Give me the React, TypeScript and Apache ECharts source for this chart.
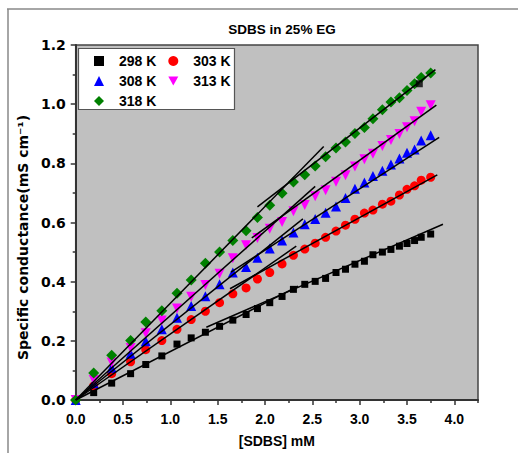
import React, { useEffect, useRef } from "react";
import * as echarts from "echarts";

// [SDBS] concentrations (mM), shared by all temperatures
const conc = [0, 0.19, 0.38, 0.58, 0.74, 0.91, 1.07, 1.22, 1.37, 1.52, 1.66, 1.8, 1.92, 2.05, 2.18, 2.3, 2.42, 2.53, 2.64, 2.75, 2.85, 2.95, 3.05, 3.14, 3.24, 3.33, 3.42, 3.5, 3.58, 3.65, 3.75];

// Specific conductance (mS cm-1)
const k298 = [0, 0.025, 0.057, 0.089, 0.12, 0.149, 0.189, 0.21, 0.229, 0.249, 0.27, 0.289, 0.309, 0.329, 0.35, 0.374, 0.391, 0.401, 0.411, 0.431, 0.442, 0.459, 0.469, 0.491, 0.5, 0.509, 0.52, 0.529, 0.539, 0.55, 0.561];
const k303 = [0, 0.048, 0.089, 0.129, 0.17, 0.201, 0.239, 0.272, 0.3, 0.329, 0.359, 0.379, 0.409, 0.431, 0.46, 0.489, 0.51, 0.53, 0.55, 0.571, 0.591, 0.611, 0.632, 0.642, 0.662, 0.672, 0.693, 0.712, 0.724, 0.743, 0.753];
const k308 = [0, 0.057, 0.109, 0.156, 0.199, 0.239, 0.278, 0.318, 0.351, 0.391, 0.431, 0.45, 0.481, 0.512, 0.539, 0.566, 0.594, 0.612, 0.633, 0.654, 0.683, 0.714, 0.735, 0.757, 0.775, 0.796, 0.816, 0.836, 0.847, 0.877, 0.895];
const k313 = [0, 0.068, 0.127, 0.176, 0.226, 0.269, 0.309, 0.349, 0.389, 0.427, 0.479, 0.523, 0.548, 0.579, 0.602, 0.638, 0.659, 0.689, 0.709, 0.738, 0.76, 0.789, 0.814, 0.832, 0.859, 0.879, 0.899, 0.922, 0.942, 0.974, 0.996];
const k318 = [0, 0.091, 0.151, 0.201, 0.264, 0.302, 0.361, 0.406, 0.462, 0.5, 0.539, 0.572, 0.617, 0.658, 0.699, 0.737, 0.761, 0.791, 0.822, 0.852, 0.872, 0.901, 0.921, 0.951, 0.981, 1.007, 1.022, 1.046, 1.069, 1.09, 1.105];

// stray marker seen in the original figure
const strayX = [3.63];
const strayY = [1.069];

// linear fit segments: [x0, y0, x1, y1] (pre-CMC and post-CMC)
const fitPre298 = [0, 0, 2.35, 0.385];
const fitPost298 = [1.38, 0.246, 3.88, 0.594];
const fitPre303 = [0, 0, 2.33, 0.52];
const fitPost303 = [1.63, 0.376, 3.82, 0.761];
const fitPre308 = [0, 0, 2.4, 0.612];
const fitPost308 = [1.64, 0.432, 3.84, 0.888];
const fitPre313 = [0, 0, 2.53, 0.722];
const fitPost313 = [1.86, 0.548, 3.81, 0.997];
const fitPre318 = [0, 0, 2.62, 0.857];
const fitPost318 = [1.92, 0.653, 3.8, 1.117];

const names = ["298 K", "303 K", "308 K", "313 K", "318 K"];

// axis ticks
const xMajorTicks = [0, 0.5, 1.0, 1.5, 2.0, 2.5, 3.0, 3.5, 4.0];
const xMinorTicks = [0.25, 0.75, 1.25, 1.75, 2.25, 2.75, 3.25, 3.75, 4.25];

const ARIAL = "'Liberation Sans', Arial, sans-serif";
const VERDANA = "'DejaVu Sans', Verdana, sans-serif";

export default function App() {
  const ref = useRef<HTMLDivElement>(null);
  useEffect(() => {
    if (!ref.current) return;
    const chart = echarts.init(ref.current, null, { renderer: "svg" });
    const pts = (ys: number[]) => conc.map((x, i) => [x, ys[i]]);
    const seg = (s: number[]) => [[s[0], s[1]], [s[2], s[3]]];
    const scat = (name: string, ys: number[], symbol: string, size: number, color: string) => ({
      type: "scatter",
      name,
      data: pts(ys),
      symbol,
      symbolSize: size,
      itemStyle: { color, opacity: 1 },
      z: 2,
    });
    const fits = [fitPre298, fitPost298, fitPre303, fitPost303, fitPre308, fitPost308, fitPre313, fitPost313, fitPre318, fitPost318];
    const lineSeries = fits.map((f) => ({
      type: "line",
      data: seg(f),
      symbol: "none",
      lineStyle: { color: "#000", width: 1.5 },
      z: 3,
      silent: true,
    }));
    const legendCommon = {
      orient: "vertical",
      itemWidth: 10,
      itemHeight: 10,
      itemGap: 6,
      padding: 0,
      textStyle: { fontSize: 14, lineHeight: 14, fontWeight: "bold", color: "#000", fontFamily: ARIAL, padding: [0, 0, 0, 10] },
      z: 5,
    };
    const tickStyle = { color: "#333", width: 1.5 };
    chart.setOption({
      animation: false,
      backgroundColor: "#fff",
      title: {
        text: "SDBS in 25% EG",
        left: 277,
        textAlign: "center",
        top: 17,
        textStyle: { fontSize: 13.5, fontWeight: "bold", color: "#000", fontFamily: ARIAL },
      },
      grid: {
        left: 75.7,
        right: 40,
        top: 45,
        bottom: 51,
        show: true,
        backgroundColor: "#c0c0c0",
        borderColor: "#444",
        borderWidth: 1.5,
      },
      legend: [
        { ...legendCommon, data: [names[0], names[2], names[4]], left: 94, top: 54 },
        { ...legendCommon, data: [names[1], names[3]], left: 168.3, top: 54 },
      ],
      xAxis: [
        {
          type: "value",
          min: 0,
          max: 4.25,
          interval: 0.5,
          name: "[SDBS] mM",
          nameLocation: "middle",
          nameGap: 34,
          nameTextStyle: { fontSize: 14, fontWeight: "bold", color: "#000", fontFamily: ARIAL },
          axisLine: { lineStyle: { color: "#333", width: 2 } },
          axisTick: { show: true, inside: false, length: 5, lineStyle: tickStyle, customValues: xMajorTicks },
          splitLine: { show: false },
          axisLabel: {
            margin: 12,
            fontSize: 14,
            fontWeight: "bold",
            color: "#000",
            fontFamily: ARIAL,
            customValues: xMajorTicks,
            formatter: (v: number) => (Math.abs(v / 0.5 - Math.round(v / 0.5)) < 1e-6 && v <= 4.0 ? v.toFixed(1) : ""),
          },
        },
        {
          type: "value",
          min: 0,
          max: 4.25,
          position: "bottom",
          axisLine: { show: false },
          axisTick: { show: true, inside: false, length: 3, lineStyle: tickStyle, customValues: xMinorTicks },
          axisLabel: { show: false },
          splitLine: { show: false },
        },
      ],
      yAxis: {
        type: "value",
        min: 0,
        max: 1.2,
        interval: 0.2,
        name: "Specific conductance(mS cm\u207B\u00B9)",
        nameLocation: "middle",
        nameGap: 38,
        nameTextStyle: { fontSize: 14, fontWeight: "bold", color: "#000", fontFamily: VERDANA, padding: [0, 30, 0, 0] },
        axisLine: { lineStyle: { color: "#333", width: 2 } },
        axisTick: { show: true, inside: false, length: 5, lineStyle: tickStyle },
        minorTick: { show: true, splitNumber: 2, length: 3, lineStyle: tickStyle },
        splitLine: { show: false },
        axisLabel: {
          margin: 10,
          fontSize: 14,
          fontWeight: "bold",
          color: "#000",
          fontFamily: VERDANA,
          formatter: (v: number) => v.toFixed(1),
        },
      },
      graphic: [
        { type: "line", z: 10, shape: { x1: 7, y1: 9, x2: 518, y2: 9 }, style: { stroke: "#888", lineWidth: 1.5 } },
        { type: "line", z: 10, shape: { x1: 8, y1: 9, x2: 8, y2: 453 }, style: { stroke: "#888", lineWidth: 1.5 } },
        { type: "rect", z: 4, shape: { x: 78.5, y: 48.5, width: 156, height: 61 }, style: { fill: "#fff", stroke: "#555", lineWidth: 1.2 } },
      ],
      series: [
        scat(names[0], k298, "rect", 7, "#000000"),
        scat(names[1], k303, "circle", 9, "#ff0000"),
        scat(names[2], k308, "triangle", 10, "#0000ff"),
        scat(names[3], k313, "path://M0,0L10,0L5,9Z", 10, "#ff00ff"),
        scat(names[4], k318, "diamond", 11, "#008000"),
        {
          type: "scatter",
          name: "stray",
          data: strayX.map((x, i) => [x, strayY[i]]),
          symbol: "rect",
          symbolSize: 7,
          itemStyle: { color: "#000" },
          z: 2,
        },
        ...lineSeries,
      ],
    });
    return () => chart.dispose();
  }, []);
  return <div ref={ref} style={{ position: "fixed", left: 0, top: 0, width: 518, height: 453 }} />;
}
